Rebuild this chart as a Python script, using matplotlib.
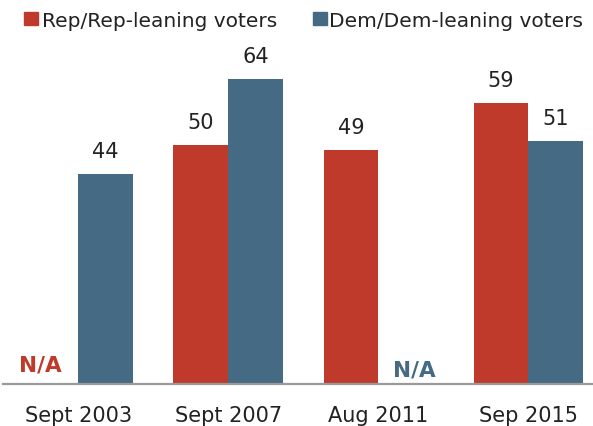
import numpy as np
import matplotlib
matplotlib.use("Agg")
import matplotlib.pyplot as plt

# survey waves and share (%) in each party group
periods = ["Sept 2003", "Sept 2007", "Aug 2011", "Sep 2015"]
rep = [None, 50, 49, 59]
dem = [44, 64, None, 51]

red = "#BF3A2B"
blue = "#456A84"
txt = "#222222"
plt.rcParams['font.family'] = ['DejaVu Sans']

W, H = 593, 427
fig = plt.figure(figsize=(W / 100, H / 100), dpi=100)
ax = fig.add_axes([0, 1 - 385 / H, 1, 385 / H])

x = np.arange(len(periods))
w = 0.365
# where the "N/A" notes sit (offset from group centre, height above axis)
na_pos = {"rep": (-0.2495, 2.73), "dem": (0.2375, 1.68)}

for i in range(len(periods)):
    for key, val, off, col in (("rep", rep[i], -w / 2, red),
                               ("dem", dem[i], w / 2, blue)):
        if val is None:
            dx, dy = na_pos[key]
            ax.text(x[i] + dx, dy, "N/A", color=col, ha="center", va="baseline",
                    fontsize=15.5, fontweight="bold")
            continue
        ax.bar(x[i] + off, val, w, color=col, edgecolor="none")
        ax.text(x[i] + off, val + 3.56, str(val), ha="center", va="baseline",
                fontsize=15, color=txt)

ax.set_xlim(-0.52, 3.43)
ax.set_ylim(0, 80.7)
for s in ["top", "right", "left"]:
    ax.spines[s].set_visible(False)
ax.spines["bottom"].set_color("#9a9a9a")
ax.spines["bottom"].set_linewidth(1.6)
ax.spines["bottom"].set_bounds(-0.5, 3.43)
ax.set_yticks([])
ax.set_xticks(x)
ax.set_xticklabels(periods, fontsize=15, color=txt)
ax.tick_params(axis="x", length=0, pad=15)

# legend drawn by hand across the top
def legend_item(x0, x_txt, label, col):
    fig.patches.append(plt.Rectangle((x0 / W, 1 - 26 / H), 14 / W, 13 / H,
                                     transform=fig.transFigure, color=col))
    fig.text(x_txt / W, 1 - 27 / H, label, fontsize=14.5, va="baseline",
             color=txt)

legend_item(24, 42, "Rep/Rep-leaning voters", red)
legend_item(313, 329, "Dem/Dem-leaning voters", blue)

fig.savefig("out.png", dpi=100)
